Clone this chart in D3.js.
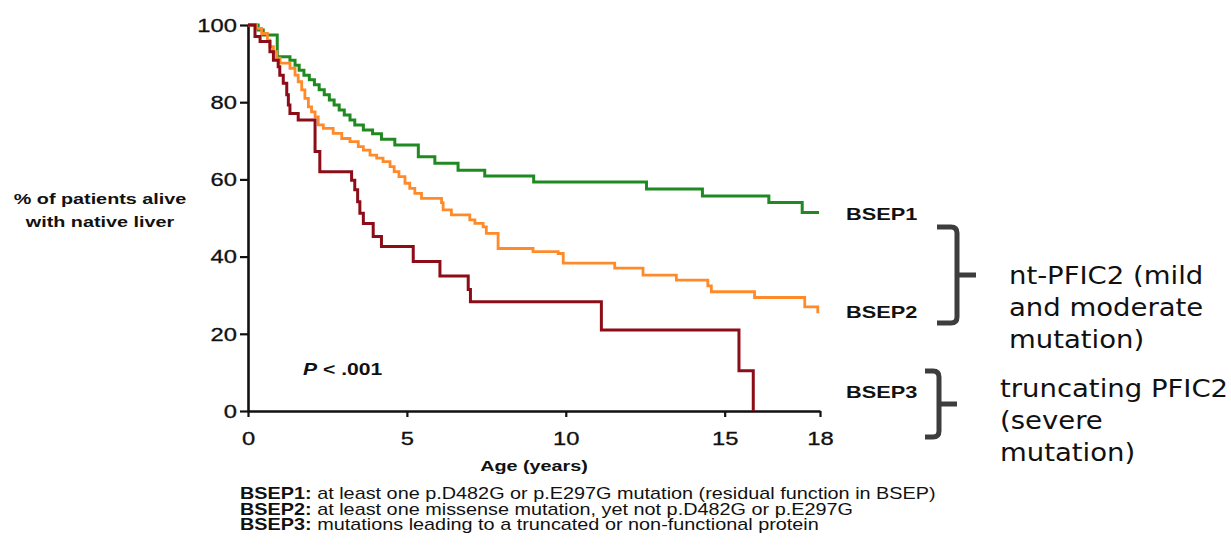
<!DOCTYPE html>
<html>
<head>
<meta charset="utf-8">
<script src="https://cdn.jsdelivr.net/npm/d3@7"></script>
<style>
  body { margin: 0; background: #fff; }
  svg { display: block; }
  .axis path, .axis line { stroke: #111; }
</style>
</head>
<body>
<svg id="chart" width="1231" height="545"></svg>
<script>
// values (age in years, % alive with native liver)
const bsep1Age  = [0, 0.32, 0.48, 0.92, 1.32, 1.48, 1.61, 1.76, 1.93, 2.09, 2.24, 2.40, 2.56, 2.71, 2.87, 3.03, 3.21, 3.36, 3.63, 3.92, 4.2, 4.62, 5.36, 5.88, 6.61, 7.45, 8.99, 12.54, 14.3, 16.39, 17.44, 17.97];
const bsep1Surv = [100, 98.7, 97.4, 91.8, 90.9, 89.6, 88.3, 87, 85.8, 84.5, 83.2, 81.9, 80.6, 79.3, 78, 76.7, 75.4, 74.1, 72.8, 71.8, 70.4, 68.9, 65.9, 64.2, 62.4, 60.9, 59.3, 57.5, 55.7, 54, 51.4, 51.4];

const bsep2Age  = [0, 0.27, 0.43, 0.61, 0.69, 0.80, 0.90, 1.01, 1.32, 1.48, 1.58, 1.69, 1.79, 1.90, 2.0, 2.11, 2.21, 2.37, 2.68, 2.95, 3.21, 3.47, 3.63, 3.84, 4.05, 4.25, 4.47, 4.6, 4.75, 4.94, 5.09, 5.25, 5.46, 6.09, 6.14, 6.4, 6.98, 7.14, 7.4, 7.5, 7.87, 8.97, 9.76, 9.92, 11.54, 12.43, 13.48, 14.47, 14.58, 15.94, 17.52, 17.93];
const bsep2Surv = [100, 99.1, 97.8, 96.1, 94.4, 93.1, 91.4, 90.1, 88.8, 87, 85.3, 83.2, 81, 78.8, 77.5, 76.2, 74.1, 73.2, 71.9, 70.6, 69.8, 68.5, 67.6, 66.3, 65.5, 64.6, 63.3, 62, 60.7, 59, 57.7, 56.4, 55.1, 54, 52.1, 50.8, 49.5, 48.6, 47.7, 46, 42.1, 41.3, 40.8, 38.3, 37, 35.2, 33.9, 32.4, 30.9, 29.4, 27, 25.3];

const bsep3Age  = [0, 0.22, 0.38, 0.69, 0.8, 0.95, 1.0, 1.11, 1.22, 1.27, 1.32, 1.58, 2.11, 2.26, 3.26, 3.36, 3.45, 3.52, 3.63, 3.94, 4.2, 5.2, 6.04, 6.93, 7.0, 11.12, 15.45, 15.9];
const bsep3Surv = [100, 97, 95.7, 93.1, 90.9, 89.2, 87, 84.9, 81.9, 79.3, 77.1, 75.4, 67.2, 62, 59.8, 57.3, 54.2, 51.2, 48.6, 45.2, 42.6, 38.7, 35, 31.5, 28.3, 21, 10.4, 0];

const groupNames  = ["BSEP1", "BSEP2", "BSEP3"];
const groupColors = ["#1f8a22", "#ff8a2a", "#8c0d17"];
const ageTicks  = [0, 5, 10, 15, 18];
const survTicks = [0, 20, 40, 60, 80, 100];

const noteKeys  = ["BSEP1:", "BSEP2:", "BSEP3:"];
const noteTexts = [" at least one p.D482G or p.E297G mutation (residual function in BSEP)",
                   " at least one missense mutation, yet not p.D482G or p.E297G",
                   " mutations leading to a truncated or non-functional protein"];

const mildLines   = ["nt-PFIC2 (mild", "and moderate", "mutation)"];
const severeLines = ["truncating PFIC2", "(severe", "mutation)"];

// the picture is stretched sideways, so the chart text is too
const SX = 1.32;
const FONT = "'Liberation Sans', Arial, sans-serif";

let chart = d3.select("#chart");

let x = d3.scaleLinear()
    .domain([0, 18])
    .range([248, 820]);
let y = d3.scaleLinear()
    .domain([0, 100])
    .range([411, 25]);

function label(g, px, py, str, size, weight, anchor, sx) {
    return g.append("text")
        .attr("transform", "translate(" + px + "," + py + ") scale(" + (sx || SX) + ",1)")
        .attr("font-family", FONT)
        .attr("font-size", size + "px")
        .attr("font-weight", weight)
        .attr("text-anchor", anchor || "start")
        .attr("fill", "#111")
        .text(str);
}

// axes
let yAxis = d3.axisLeft(y).tickValues(survTicks).tickSize(8).tickSizeOuter(0);
let yAxisGroup = chart.append("g")
    .attr("class", "axis")
    .attr("transform", "translate(" + x(0) + ",0)")
    .call(yAxis);

let xAxis = d3.axisBottom(x).tickValues(ageTicks).tickSize(6).tickSizeOuter(0);
let xAxisGroup = chart.append("g")
    .attr("class", "axis")
    .attr("transform", "translate(0," + y(0) + ")")
    .call(xAxis);

chart.selectAll(".axis .domain").attr("stroke-width", 2.6);
chart.selectAll(".axis .tick line").attr("stroke-width", 2.2);

yAxisGroup.selectAll(".tick text")
    .attr("x", 0).attr("dy", "0.35em")
    .attr("transform", "translate(-11,0) scale(" + SX + ",1)")
    .attr("font-family", FONT).attr("font-size", "18px")
    .attr("stroke", "#111").attr("stroke-width", 0.3)
    .attr("fill", "#111");
xAxisGroup.selectAll(".tick text")
    .attr("y", 0).attr("dy", 0)
    .attr("transform", "translate(0,34) scale(" + SX + ",1)")
    .attr("font-family", FONT).attr("font-size", "18px")
    .attr("stroke", "#111").attr("stroke-width", 0.3)
    .attr("fill", "#111");

// survival curves
let series = [
    d3.zip(bsep1Age, bsep1Surv),
    d3.zip(bsep2Age, bsep2Surv),
    d3.zip(bsep3Age, bsep3Surv)
];
let line = d3.line()
    .x(function(d) { return x(d[0]); })
    .y(function(d) { return y(d[1]); })
    .curve(d3.curveStepAfter);

chart.selectAll("path.curve")
    .data(series)
    .enter()
    .append("path")
    .attr("class", "curve")
    .attr("d", line)
    .attr("fill", "none")
    .attr("stroke", function(d, i) { return groupColors[i]; })
    .attr("stroke-width", function(d, i) { return i == 1 ? 2.8 : 3; })
    .attr("stroke-linejoin", "miter");

// axis titles
label(chart, 100, 204, "% of patients alive", 15, "bold", "middle");
label(chart, 100, 227, "with native liver", 15, "bold", "middle");
label(chart, x(9), 471, "Age (years)", 15, "bold", "middle");

let pText = label(chart, 303, 375, "", 16, "bold");
pText.append("tspan").attr("font-style", "italic").text("P");
pText.append("tspan").text(" < .001");

// group labels at the curve ends
let labelY = [220, 318, 398];
groupNames.forEach(function(n, i) {
    label(chart, 846, labelY[i], n, 16.5, "bold");
});

// footnotes
noteKeys.forEach(function(k, i) {
    let t = label(chart, 240, 499 + i * 15.6, "", 16, "normal", "start", 1.24);
    t.append("tspan").attr("font-weight", "bold").text(k);
    t.append("tspan").text(noteTexts[i]);
});

// brackets
let brace = chart.append("g")
    .attr("fill", "none")
    .attr("stroke", "#3d3d3d")
    .attr("stroke-width", 5)
    .attr("stroke-linecap", "butt");

function bracket(x0, x1, top, bottom, stub) {
    let mid = (top + bottom) / 2, r = 6;
    return "M" + x0 + "," + top + " L" + (x1 - r) + "," + top +
        " Q" + x1 + "," + top + " " + x1 + "," + (top + r) +
        " L" + x1 + "," + (bottom - r) +
        " Q" + x1 + "," + bottom + " " + (x1 - r) + "," + bottom +
        " L" + x0 + "," + bottom +
        " M" + x1 + "," + mid + " L" + stub + "," + mid;
}
brace.append("path").attr("d", bracket(937, 957, 227, 323, 976));
brace.append("path").attr("d", bracket(925, 939, 371, 437, 957));

// right-hand notes
function notes(lines, px, py) {
    lines.forEach(function(s, i) {
        chart.append("text")
            .attr("transform", "translate(" + px + "," + (py + i * 32) + ") scale(1.1,1)")
            .attr("font-family", "'DejaVu Sans', Verdana, sans-serif")
            .attr("font-size", "25px")
            .attr("fill", "#111")
            .text(s);
    });
}
notes(mildLines, 1009, 284);
notes(severeLines, 1000, 397);
</script>
</body>
</html>
